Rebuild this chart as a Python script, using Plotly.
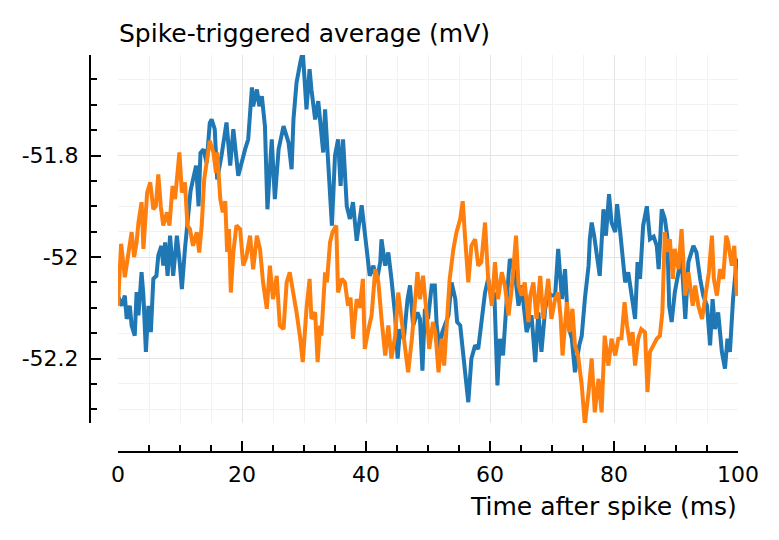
import plotly.graph_objects as go

W, H = 779, 540

# ---- data ----
blue_t = [0.0, 0.6, 1.1, 1.4, 1.9, 2.2, 2.7, 3.0, 3.3, 3.8, 4.1, 4.5, 4.9, 5.3, 5.7, 6.2, 6.5, 7.0, 7.3, 7.6,
          8.0, 8.4, 8.9, 9.5, 10.0, 10.3, 10.8, 11.3, 11.7, 12.1, 12.6, 13.0, 13.3, 13.8, 14.3, 14.8, 15.1, 15.6,
          16.0, 16.7, 17.3, 17.5, 18.1, 18.6, 19.4, 20.0, 20.5, 21.0, 21.6, 21.8, 22.4, 22.8, 23.2, 23.7, 24.1,
          24.8, 25.3, 25.9, 26.3, 26.7, 27.5, 28.0, 28.3, 28.8, 29.4, 29.8, 30.4, 30.9, 31.2, 31.8, 32.3, 32.9,
          33.1, 33.4, 33.9, 34.5, 35.0, 35.5, 35.9, 36.3, 36.9, 37.4, 37.9, 38.5, 39.3, 39.8, 40.1, 40.6, 41.2,
          41.7, 42.3, 42.5, 43.1, 43.6, 44.1, 44.7, 45.1, 45.5, 46.1, 46.7, 47.1, 47.6, 48.3, 48.7, 49.1, 49.5,
          50.0, 50.6, 51.1, 51.4, 51.9, 52.3, 52.7, 53.3, 53.8, 54.4, 54.7, 55.2, 55.7, 56.1, 56.5, 57.0, 57.6,
          58.1, 58.7, 59.2, 59.7, 60.3, 60.7, 61.2, 61.6, 62.1, 62.7, 63.2, 64.0, 64.6, 65.1, 65.9, 66.7, 67.3,
          67.8, 68.3, 68.9, 69.4, 69.9, 70.5, 71.0, 71.6, 72.1, 72.6, 73.2, 73.7, 74.4, 74.8, 75.3, 75.9, 76.1,
          76.4, 76.8, 77.2, 77.7, 78.3, 78.7, 79.2, 79.6, 80.2, 80.5, 81.0, 81.4, 81.8, 82.3, 82.8, 83.4, 83.8,
          84.2, 84.7, 85.3, 85.8, 86.4, 86.9, 87.2, 87.7, 88.2, 88.6, 88.9, 89.3, 89.8, 90.4, 90.9, 91.5, 92.0,
          92.8, 93.3, 93.9, 94.4, 95.0, 95.5, 95.9, 96.3, 96.8, 97.4, 97.9, 98.3, 98.7, 99.2, 99.8, 100.0]
blue_v = [-52.076, -52.096, -52.076, -52.122, -52.096, -52.135, -52.155, -52.069, -52.115, -52.030, -52.076,
          -52.187, -52.096, -52.148, -52.043, -52.037, -51.997, -51.978, -52.017, -51.971, -52.037, -51.958,
          -52.037, -51.958, -52.017, -52.063, -51.984, -51.925, -51.870, -51.847, -51.820, -51.900, -51.795,
          -51.788, -51.815, -51.736, -51.729, -51.748, -51.847, -51.800, -51.742, -51.735, -51.820, -51.748,
          -51.840, -51.807, -51.788, -51.768, -51.666, -51.703, -51.670, -51.703, -51.683, -51.742, -51.906,
          -51.768, -51.886, -51.788, -51.761, -51.742, -51.774, -51.827, -51.729, -51.656, -51.617, -51.595,
          -51.709, -51.630, -51.670, -51.729, -51.693, -51.768, -51.794, -51.709, -51.820, -51.938, -51.800,
          -51.768, -51.860, -51.768, -51.900, -51.925, -51.892, -51.968, -51.898, -51.951, -51.978, -52.037,
          -52.017, -52.050, -52.010, -51.965, -52.017, -51.991, -52.043, -52.115, -52.200, -52.142, -52.161,
          -52.083, -52.056, -52.135, -52.109, -52.122, -52.224, -52.102, -52.122, -52.056, -52.056, -52.135,
          -52.181, -52.148, -52.135, -52.115, -52.050, -52.083, -52.128, -52.135, -52.194, -52.250, -52.286,
          -52.200, -52.174, -52.181, -52.115, -52.070, -52.043, -52.083, -52.070, -52.253, -52.161, -52.194,
          -52.083, -52.004, -52.030, -52.096, -52.056, -52.148, -52.115, -52.207, -52.109, -52.187, -52.102,
          -52.070, -52.076, -52.076, -51.984, -52.083, -52.024, -52.135, -52.161, -52.227, -52.174, -52.155,
          -52.083, -52.017, -51.965, -51.932, -51.958, -51.991, -52.037, -51.906, -51.958, -51.876, -51.932,
          -51.951, -51.896, -51.951, -52.004, -52.050, -52.030, -52.070, -52.122, -52.010, -52.043, -51.938,
          -51.900, -51.965, -51.960, -51.978, -52.024, -51.906, -51.925, -51.960, -52.096, -52.128, -52.070,
          -52.030, -52.004, -52.122, -52.010, -51.978, -51.991, -52.043, -52.076, -52.096, -52.174, -52.083,
          -52.142, -52.109, -52.187, -52.220, -52.161, -52.187, -52.083, -52.004, -52.010]

orange_t = [0.0, 0.5, 0.9, 1.1, 1.7, 2.2, 2.6, 3.0, 3.3, 3.8, 4.1, 4.4, 4.7, 5.2, 5.7, 6.1, 6.5, 6.9, 7.3, 7.9,
            8.3, 8.8, 9.2, 9.5, 9.9, 10.3, 10.8, 11.2, 11.6, 12.1, 12.7, 13.1, 13.5, 13.9, 14.3, 14.8, 15.4,
            15.8, 16.0, 16.5, 16.9, 17.3, 17.6, 17.9, 18.2, 18.6, 19.1, 19.7, 20.2, 20.7, 21.3, 21.8, 22.4, 22.9,
            23.4, 24.0, 24.5, 25.0, 25.6, 26.1, 26.7, 27.2, 27.7, 28.3, 28.8, 29.4, 29.8, 30.4, 30.9, 31.2, 31.8,
            32.2, 32.6, 32.8, 33.4, 33.7, 34.2, 34.6, 35.2, 35.5, 36.1, 36.6, 37.1, 37.5, 37.9, 38.5, 39.0, 39.5,
            39.8, 40.4, 40.9, 41.5, 42.0, 42.5, 43.1, 43.6, 44.1, 44.7, 45.2, 45.7, 46.3, 46.8, 47.4, 47.9, 48.3,
            48.7, 49.2, 49.8, 50.2, 50.8, 51.2, 51.7, 52.2, 52.6, 53.0, 53.5, 54.1, 54.6, 55.2, 55.6, 56.0, 56.5,
            57.0, 57.6, 58.1, 58.6, 59.2, 59.7, 60.3, 60.8, 61.3, 61.9, 62.4, 63.0, 63.5, 64.2, 64.6, 65.1, 65.6,
            66.2, 66.5, 67.0, 67.5, 68.1, 68.6, 69.4, 69.9, 70.5, 71.0, 71.4, 71.7, 72.4, 72.8, 73.3, 73.7, 74.2,
            74.8, 75.3, 75.9, 76.4, 76.9, 77.5, 78.0, 78.5, 79.1, 79.6, 80.2, 80.7, 81.2, 81.7, 82.1, 82.6, 83.0,
            83.4, 83.9, 84.4, 85.0, 85.4, 85.8, 86.3, 86.9, 87.4, 87.8, 88.2, 88.6, 89.0, 89.5, 89.8, 90.4, 90.9,
            91.5, 92.0, 92.7, 93.1, 93.6, 94.2, 94.7, 95.3, 95.8, 96.1, 96.6, 97.1, 97.6, 98.1, 98.4, 99.0, 99.4,
            99.8, 100.0]
orange_v = [-52.096, -51.974, -52.017, -52.040, -51.991, -51.951, -52.000, -51.971, -51.932, -51.892, -51.984,
            -51.925, -51.873, -51.853, -51.906, -51.900, -51.837, -51.900, -51.938, -51.912, -51.938, -51.860,
            -51.886, -51.847, -51.794, -51.873, -51.853, -51.938, -51.945, -51.978, -51.951, -51.991, -51.938,
            -51.847, -51.814, -51.771, -51.794, -51.834, -51.794, -51.886, -51.912, -51.890, -51.990, -51.945,
            -52.070, -51.991, -51.938, -51.945, -52.017, -52.000, -51.958, -52.024, -51.958, -51.984, -52.050,
            -52.102, -52.017, -52.083, -52.037, -52.135, -52.142, -52.050, -52.030, -52.070, -52.109, -52.161,
            -52.207, -52.102, -52.043, -52.122, -52.109, -52.207, -52.135, -52.155, -52.030, -52.050, -51.971,
            -51.951, -51.938, -52.070, -52.043, -52.050, -52.096, -52.080, -52.161, -52.083, -52.100, -52.043,
            -52.181, -52.142, -52.115, -52.024, -52.050, -52.122, -52.194, -52.135, -52.200, -52.155, -52.070,
            -52.120, -52.187, -52.227, -52.161, -52.096, -52.030, -52.083, -52.037, -52.115, -52.181, -52.128,
            -52.150, -52.227, -52.161, -52.214, -52.135, -52.043, -51.984, -51.951, -51.925, -51.890, -51.965,
            -52.050, -51.978, -51.965, -52.017, -52.010, -51.932, -52.043, -52.096, -52.010, -52.083, -52.030,
            -52.056, -52.115, -52.063, -51.958, -52.056, -52.076, -52.050, -52.128, -52.076, -52.050, -52.122,
            -52.037, -52.122, -52.043, -52.122, -52.083, -52.070, -52.120, -52.194, -52.089, -52.148, -52.102,
            -52.174, -52.194, -52.253, -52.330, -52.266, -52.200, -52.306, -52.240, -52.306, -52.155, -52.214,
            -52.161, -52.194, -52.161, -52.160, -52.089, -52.135, -52.174, -52.148, -52.214, -52.161, -52.142,
            -52.148, -52.266, -52.187, -52.174, -52.161, -52.155, -52.109, -51.951, -51.990, -51.965, -52.043,
            -51.984, -52.024, -51.945, -52.076, -52.030, -52.096, -52.056, -52.096, -52.122, -52.083, -52.030,
            -51.958, -52.043, -52.076, -52.024, -52.043, -51.958, -51.971, -52.017, -51.978, -52.076, -52.063]

x_ticks = [0, 20, 40, 60, 80, 100]
x_ticklabels = ["0", "20", "40", "60", "80", "100"]
y_ticks = [-52.2, -52.0, -51.8]
y_ticklabels = ["-52.2", "-52", "-51.8"]
title_text = "Spike-triggered average (mV)"
xlabel_text = "Time after spike (ms)"

FONT = "DejaVu Sans"

fig = go.Figure()
fig.add_trace(go.Scatter(x=blue_t, y=blue_v, mode="lines",
                         line=dict(color="#1f77b4", width=4), showlegend=False))
fig.add_trace(go.Scatter(x=orange_t, y=orange_v, mode="lines",
                         line=dict(color="#ff7f0e", width=4), showlegend=False))

x0, x1 = 118 / W, 738 / W
y0, y1 = 1 - 423 / H, 1 - 55 / H

fig.update_layout(
    width=W, height=H,
    margin=dict(l=0, r=0, t=0, b=0),
    paper_bgcolor="white", plot_bgcolor="white",
    font=dict(family=FONT, color="black"),
    xaxis=dict(
        domain=[x0, x1], range=[0, 100], anchor="free", position=1 - 452 / H,
        tickvals=x_ticks, ticktext=x_ticklabels,
        ticks="inside", ticklen=10, tickwidth=2, tickcolor="black",
        showline=True, linecolor="black", linewidth=2,
        showgrid=True, gridcolor="#e4e4e4", gridwidth=1,
        zeroline=False, tickfont=dict(size=22, family=FONT, color="black"),
        ticklabelstandoff=3,
        minor=dict(dtick=5, tick0=0, ticks="inside", ticklen=6, tickwidth=2, tickcolor="black",
                   showgrid=True, gridcolor="#f2f2f2", gridwidth=1),
        automargin=False,
    ),
    yaxis=dict(
        domain=[y0, y1], range=[-52.327, -51.602], anchor="free", position=90 / W,
        tickvals=y_ticks, ticktext=y_ticklabels,
        ticks="inside", ticklen=10, tickwidth=2, tickcolor="black",
        showline=True, linecolor="black", linewidth=2,
        showgrid=True, gridcolor="#e4e4e4", gridwidth=1,
        zeroline=False, tickfont=dict(size=22, family=FONT, color="black"),
        ticklabelstandoff=6,
        minor=dict(dtick=0.05, tick0=-52.0, ticks="inside", ticklen=6, tickwidth=2, tickcolor="black",
                   showgrid=True, gridcolor="#f2f2f2", gridwidth=1),
        automargin=False,
    ),
    annotations=[
        dict(text=title_text, xref="paper", yref="paper", x=117 / W, y=1 - 33 / H,
             xanchor="left", yanchor="middle", showarrow=False,
             font=dict(size=25, family=FONT, color="black")),
        dict(text=xlabel_text, xref="paper", yref="paper", x=739 / W, y=1 - 506 / H,
             xanchor="right", yanchor="middle", showarrow=False,
             font=dict(size=25, family=FONT, color="black")),
    ],
)

fig.write_html("out.html", config={"displayModeBar": False},
               post_script="document.body.style.margin='0';document.body.style.overflow='hidden';")
